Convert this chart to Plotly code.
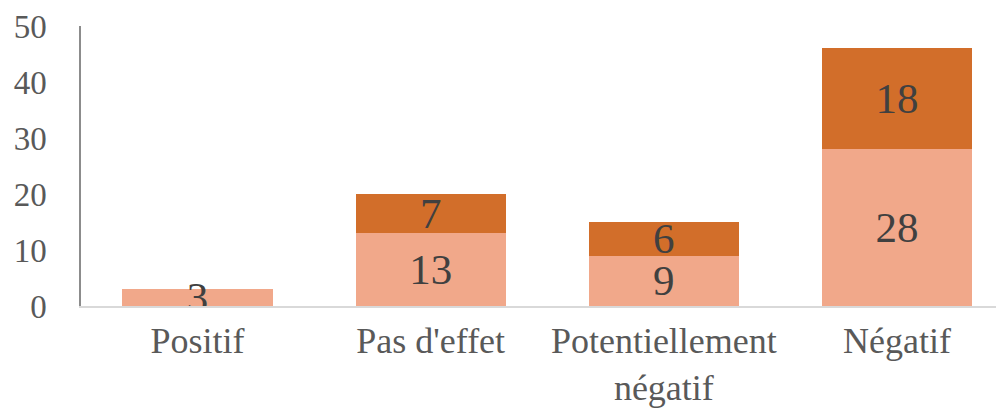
import plotly.graph_objects as go

categories = ["Positif", "Pas d'effet", "Potentiellement<br>négatif", "Négatif"]
series_light = [3, 13, 9, 28]
series_dark = [0, 7, 6, 18]
y_ticks = [0, 10, 20, 30, 40, 50]

FONT = "Liberation Serif, Times New Roman, serif"

def labels(vals):
    return [str(v) if v else "" for v in vals]

fig = go.Figure()
fig.add_trace(go.Bar(
    x=categories, y=series_light, marker=dict(color="#F1A88A", line=dict(width=0)),
    text=labels(series_light), textposition="inside", insidetextanchor="middle",
    textangle=0, textfont=dict(family=FONT, size=43, color="#404040"),
    showlegend=False,
))
fig.add_trace(go.Bar(
    x=categories, y=series_dark, marker=dict(color="#D26E2A", line=dict(width=0)),
    text=labels(series_dark), textposition="inside", insidetextanchor="middle",
    textangle=0, textfont=dict(family=FONT, size=43, color="#404040"),
    showlegend=False,
))

fig.update_layout(
    barmode="stack",
    bargap=0.355,
    width=1004, height=410,
    margin=dict(l=73, r=8, t=18, b=112),
    paper_bgcolor="white", plot_bgcolor="white",
    uniformtext=dict(minsize=43, mode="show"),
    font=dict(family=FONT, color="#595959"),
)
fig.update_xaxes(
    range=[-0.5, 3.459], automargin=False,
    showline=True, linecolor="#D9D9D9", linewidth=2,
    showgrid=False, ticks="", tickfont=dict(size=36, color="#595959"),
    ticklabelstandoff=2,
)
fig.update_yaxes(
    range=[0, 50], tickvals=y_ticks, ticktext=[str(v) for v in y_ticks],
    automargin=False,
    showline=True, linecolor="#8C8C8C", linewidth=1.5,
    showgrid=False, zeroline=False, ticks="",
    tickfont=dict(size=33, color="#595959"),
    ticklabelstandoff=26,
)

fig.write_html("out.html")
